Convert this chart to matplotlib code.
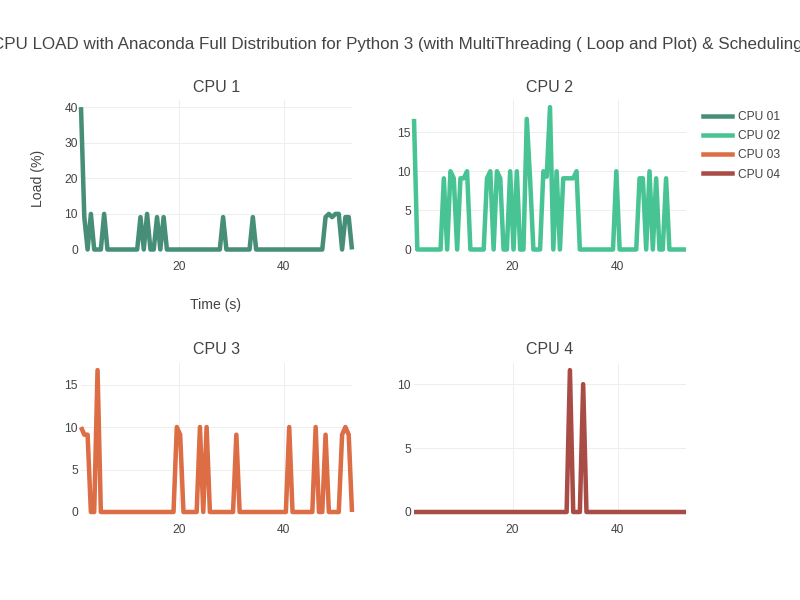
import matplotlib
matplotlib.use("Agg")
import matplotlib.pyplot as plt
from matplotlib.ticker import MultipleLocator, FixedLocator
from matplotlib.lines import Line2D

plt.rcParams['font.family'] = ['Liberation Sans', 'DejaVu Sans']

title = "CPU LOAD with Anaconda Full Distribution for Python 3 (with MultiThreading ( Loop and Plot) & Scheduling)"
series_names = ["CPU 01", "CPU 02", "CPU 03", "CPU 04"]
panel_titles = ["CPU 1", "CPU 2", "CPU 3", "CPU 4"]
colors = ["#478e78", "#47c394", "#dc6d44", "#a84c45"]

time_s = [1.24, 1.87, 2.50, 3.13, 3.76, 4.40, 5.03, 5.66, 6.29, 6.92,
          7.55, 8.18, 8.81, 9.45, 10.08, 10.71, 11.34, 11.97, 12.60, 13.23,
          13.86, 14.50, 15.13, 15.76, 16.39, 17.02, 17.65, 18.28, 18.91, 19.54,
          20.18, 20.81, 21.44, 22.07, 22.70, 23.33, 23.96, 24.59, 25.23, 25.86,
          26.49, 27.12, 27.75, 28.38, 29.01, 29.64, 30.28, 30.91, 31.54, 32.17,
          32.80, 33.43, 34.06, 34.69, 35.32, 35.96, 36.59, 37.22, 37.85, 38.48,
          39.11, 39.74, 40.37, 41.01, 41.64, 42.27, 42.90, 43.53, 44.16, 44.79,
          45.42, 46.06, 46.69, 47.32, 47.95, 48.58, 49.21, 49.84, 50.47, 51.11,
          51.74, 52.37, 53.00]

cpu1 = [40, 9.1, 0, 10, 0, 0, 0, 10, 0, 0,
        0, 0, 0, 0, 0, 0, 0, 0, 9.1, 0,
        10, 0, 0, 9.1, 0, 9.1, 0, 0, 0, 0,
        0, 0, 0, 0, 0, 0, 0, 0, 0, 0,
        0, 0, 0, 9.1, 0, 0, 0, 0, 0, 0,
        0, 0, 9.1, 0, 0, 0, 0, 0, 0, 0,
        0, 0, 0, 0, 0, 0, 0, 0, 0, 0,
        0, 0, 0, 0, 9.1, 10, 9.1, 10, 10, 0,
        9.1, 9.1, 0]

cpu2 = [16.7, 0, 0, 0, 0, 0, 0, 0, 0, 9.1,
        0, 10, 9.1, 0, 9.1, 9.1, 10, 0, 0, 0,
        0, 0, 9.1, 10, 0, 10, 9.1, 0, 0, 10,
        0, 10, 0, 0, 16.7, 9.0, 0, 0, 0, 10,
        9.3, 18.2, 0, 10, 0, 9.1, 9.1, 9.1, 9.1, 10,
        0, 0, 0, 0, 0, 0, 0, 0, 0, 0,
        0, 10, 0, 0, 0, 0, 0, 0, 9.1, 9.1,
        0, 10, 0, 9.1, 0, 0, 9.1, 0, 0, 0,
        0, 0, 0]

cpu3 = [10, 9.1, 9.1, 0, 0, 16.7, 0, 0, 0, 0,
        0, 0, 0, 0, 0, 0, 0, 0, 0, 0,
        0, 0, 0, 0, 0, 0, 0, 0, 0, 10,
        9.1, 0, 0, 0, 0, 0, 10, 0, 10, 0,
        0, 0, 0, 0, 0, 0, 0, 9.1, 0, 0,
        0, 0, 0, 0, 0, 0, 0, 0, 0, 0,
        0, 0, 0, 10, 0, 0, 0, 0, 0, 0,
        0, 10, 0, 0, 9.1, 0, 0, 0, 0, 9.1,
        10, 9.1, 0]

cpu4 = [0, 0, 0, 0, 0, 0, 0, 0, 0, 0,
        0, 0, 0, 0, 0, 0, 0, 0, 0, 0,
        0, 0, 0, 0, 0, 0, 0, 0, 0, 0,
        0, 0, 0, 0, 0, 0, 0, 0, 0, 0,
        0, 0, 0, 0, 0, 0, 0, 11.1, 0, 0,
        0, 10, 0, 0, 0, 0, 0, 0, 0, 0,
        0, 0, 0, 0, 0, 0, 0, 0, 0, 0,
        0, 0, 0, 0, 0, 0, 0, 0, 0, 0,
        0, 0, 0]

loads = [cpu1, cpu2, cpu3, cpu4]
y_steps = [10, 5, 5, 5]
x_ticks = [20, 40]

W, H = 800, 600
fig = plt.figure(figsize=(8, 6), dpi=100)
fig.patch.set_facecolor("white")

# panel rectangles in pixels: left, top, right, bottom
rects = [(81, 100, 352, 249.5), (414, 100, 686, 249.5),
         (81, 363, 352, 512), (414, 363, 686, 512)]
title_y = [87, 87, 350, 350]

TXT = "#444444"
PX = 72 / 100.0  # points per pixel

for k, (l, t, r, b) in enumerate(rects):
    ax = fig.add_axes([l / W, 1 - b / H, (r - l) / W, (b - t) / H])
    ax.set_facecolor("white")
    for s in ax.spines.values():
        s.set_visible(False)
    ax.plot(time_s, loads[k], color=colors[k], lw=4.5 * PX, zorder=3,
            solid_joinstyle="round", solid_capstyle="butt", clip_on=False)
    ax.axhline(0, color=TXT, lw=1 * PX, zorder=2)
    ax.set_xlim(time_s[0], time_s[-1])
    ax.set_ylim(0, max(loads[k]) * 1.05)
    ax.xaxis.set_major_locator(FixedLocator(x_ticks))
    ax.yaxis.set_major_locator(MultipleLocator(y_steps[k]))
    ax.grid(True, color="#eeeeee", lw=1 * PX, zorder=1)
    ax.set_axisbelow(True)
    ax.tick_params(length=0, labelsize=12 * PX, colors=TXT)
    ax.tick_params(axis="x", pad=12 * PX)
    ax.tick_params(axis="y", pad=3 * PX)
    fig.text((l + r) / 2 / W, 1 - title_y[k] / H, panel_titles[k],
             ha="center", va="center", fontsize=16 * PX, color=TXT)

fig.text(400 / W, 1 - 45 / H, title, ha="center", va="center",
         fontsize=17 * PX, color=TXT)
fig.text(38 / W, 1 - 178 / H, "Load (%)", ha="center", va="center",
         rotation=90, fontsize=14 * PX, color=TXT)
fig.text(216 / W, 1 - 305 / H, "Time (s)", ha="center", va="center",
         fontsize=14 * PX, color=TXT)

leg_handles = [Line2D([0], [0], color=c, lw=4.5 * PX) for c in colors]
fig.legend(leg_handles, series_names, loc="upper left",
           bbox_to_anchor=(703 / W, 1 - 111 / H), frameon=False,
           fontsize=12 * PX, handlelength=2.45, handletextpad=0.45,
           labelspacing=0.6, borderpad=0, borderaxespad=0,
           labelcolor=TXT)

fig.savefig("out.png", dpi=100, facecolor="white")
